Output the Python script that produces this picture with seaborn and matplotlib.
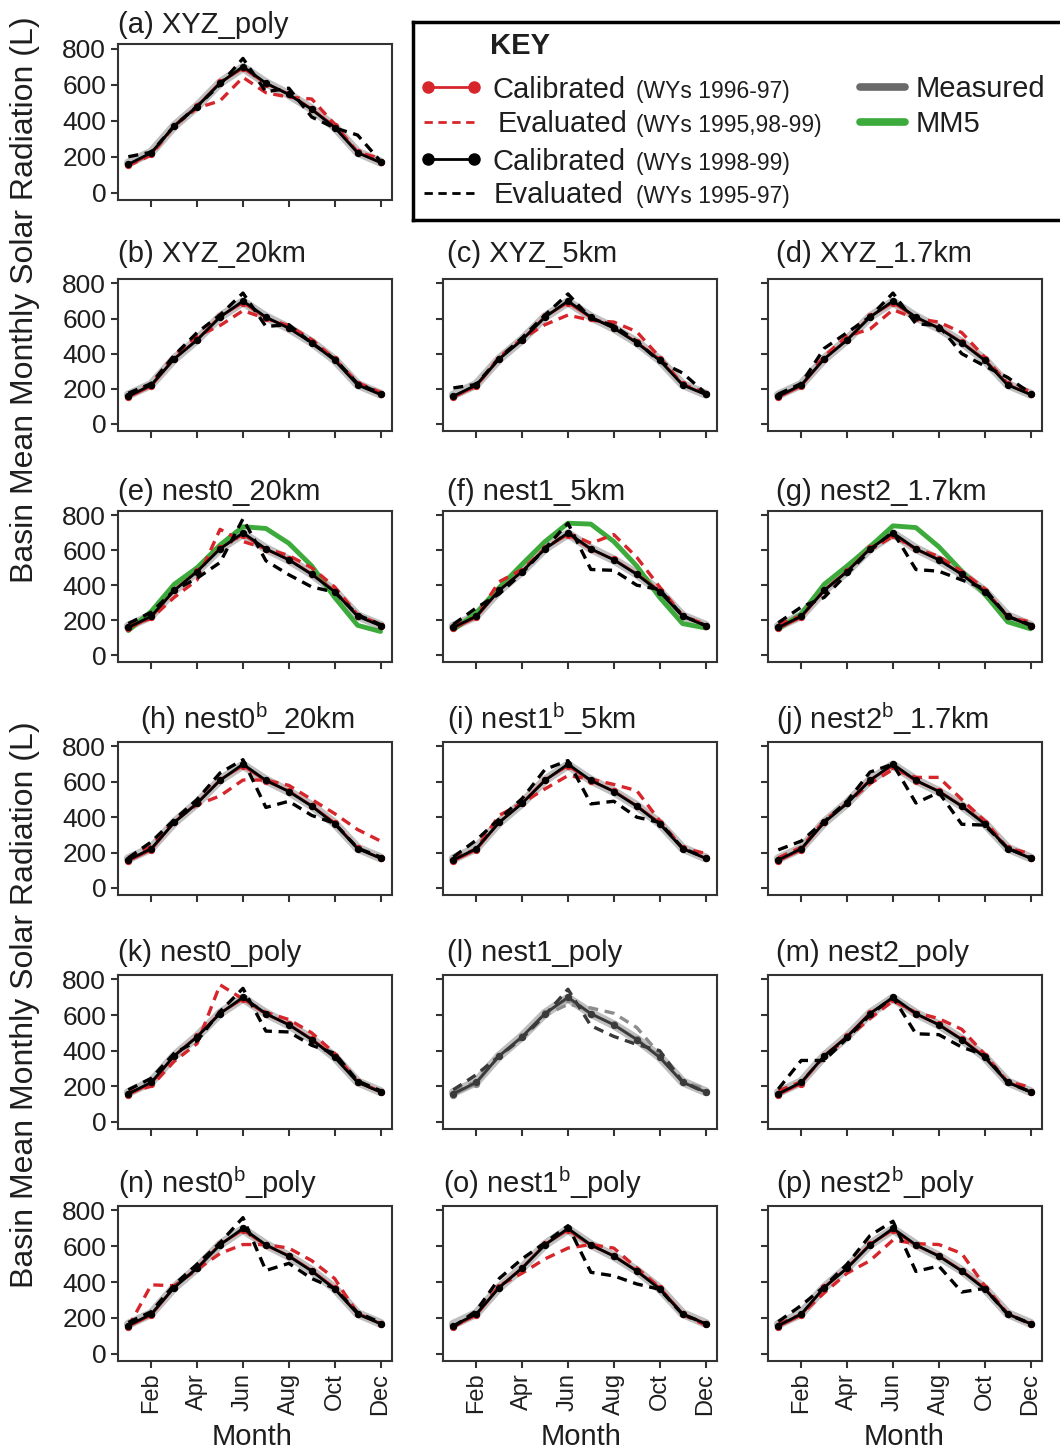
import matplotlib
matplotlib.use("Agg")
import matplotlib.pyplot as plt
import seaborn as sns
import pandas as pd
from matplotlib.lines import Line2D

# ---------------- data ----------------
months = [1, 2, 3, 4, 5, 6, 7, 8, 9, 10, 11, 12]
xtick_pos = [2, 4, 6, 8, 10, 12]
xtick_labels = ["Feb", "Apr", "Jun", "Aug", "Oct", "Dec"]
yticks = [0, 200, 400, 600, 800]

measured = [165, 225, 370, 480, 610, 695, 610, 545, 465, 365, 225, 170]
cal_black = [158, 222, 370, 478, 608, 700, 608, 545, 462, 362, 222, 168]
cal_red = [152, 215, 372, 480, 612, 690, 605, 548, 465, 368, 225, 168]

panel_ids = ["a", "b", "c", "d", "e", "f", "g", "h", "i", "j", "k", "l", "m", "n", "o", "p"]
panel_titles = ["(a) XYZ_poly", "(b) XYZ_20km", "(c) XYZ_5km", "(d) XYZ_1.7km",
                "(e) nest0_20km", "(f) nest1_5km", "(g) nest2_1.7km",
                "(h) nest0$^\\mathregular{b}$_20km", "(i) nest1$^\\mathregular{b}$_5km",
                "(j) nest2$^\\mathregular{b}$_1.7km",
                "(k) nest0_poly", "(l) nest1_poly", "(m) nest2_poly",
                "(n) nest0$^\\mathregular{b}$_poly", "(o) nest1$^\\mathregular{b}$_poly",
                "(p) nest2$^\\mathregular{b}$_poly"]

eval_red_a = [150, 210, 370, 470, 510, 640, 555, 530, 520, 380, 225, 190]
eval_black_a = [200, 225, 370, 480, 600, 745, 560, 580, 420, 360, 320, 175]
eval_red_b = [160, 230, 390, 500, 560, 645, 600, 560, 480, 370, 235, 180]
eval_black_b = [175, 230, 390, 520, 620, 745, 555, 565, 460, 370, 230, 175]
eval_red_c = [155, 215, 380, 485, 565, 620, 590, 580, 525, 380, 225, 180]
eval_black_c = [205, 225, 375, 490, 620, 740, 600, 560, 470, 355, 290, 175]
eval_red_d = [160, 220, 385, 500, 540, 650, 600, 580, 520, 380, 230, 185]
eval_black_d = [170, 230, 430, 520, 610, 745, 570, 560, 400, 330, 265, 175]
eval_red_e = [165, 210, 330, 430, 720, 650, 610, 570, 500, 390, 230, 175]
eval_black_e = [180, 245, 370, 440, 530, 780, 540, 460, 390, 360, 230, 175]
mm5_e = [140, 250, 405, 500, 630, 735, 725, 640, 510, 330, 170, 135]
eval_red_f = [165, 220, 420, 490, 610, 700, 640, 690, 560, 390, 225, 175]
eval_black_f = [175, 270, 350, 470, 610, 755, 490, 485, 400, 375, 225, 170]
mm5_f = [145, 240, 385, 520, 650, 755, 750, 650, 510, 330, 180, 155]
eval_red_g = [175, 225, 370, 480, 600, 680, 610, 565, 480, 380, 215, 190]
eval_black_g = [185, 275, 330, 465, 600, 705, 490, 480, 430, 380, 220, 175]
mm5_g = [150, 235, 405, 510, 620, 740, 730, 620, 480, 350, 190, 150]
eval_red_h = [165, 235, 380, 470, 520, 610, 610, 580, 500, 420, 330, 265]
eval_black_h = [170, 260, 385, 500, 650, 725, 455, 490, 410, 365, 225, 175]
eval_red_i = [165, 220, 410, 480, 560, 635, 615, 585, 550, 380, 225, 195]
eval_black_i = [175, 270, 390, 505, 670, 720, 475, 490, 400, 370, 225, 170]
eval_red_j = [170, 230, 380, 480, 590, 670, 625, 625, 500, 380, 225, 195]
eval_black_j = [215, 265, 375, 490, 655, 700, 480, 540, 360, 355, 225, 170]
eval_red_k = [165, 200, 340, 440, 770, 690, 615, 575, 500, 385, 225, 170]
eval_black_k = [180, 245, 385, 455, 620, 750, 510, 505, 430, 385, 230, 175]
eval_red_l = [175, 225, 370, 470, 600, 660, 640, 610, 530, 380, 225, 185]
eval_black_l = [180, 265, 370, 470, 600, 745, 540, 480, 435, 400, 225, 165]
eval_red_m = [175, 225, 365, 470, 580, 680, 615, 580, 520, 380, 225, 195]
eval_black_m = [185, 345, 345, 470, 600, 700, 495, 490, 420, 375, 220, 170]
eval_red_n = [150, 385, 380, 470, 560, 610, 610, 590, 520, 420, 225, 170]
eval_black_n = [175, 235, 385, 500, 620, 760, 465, 505, 420, 365, 230, 175]
eval_red_o = [150, 220, 380, 450, 530, 590, 610, 590, 480, 370, 220, 160]
eval_black_o = [150, 240, 420, 530, 620, 715, 455, 435, 390, 360, 220, 170]
eval_red_p = [165, 220, 340, 450, 520, 635, 615, 610, 560, 380, 225, 165]
eval_black_p = [180, 270, 375, 500, 660, 740, 460, 490, 345, 365, 220, 170]

eval_red = [eval_red_a, eval_red_b, eval_red_c, eval_red_d, eval_red_e, eval_red_f,
            eval_red_g, eval_red_h, eval_red_i, eval_red_j, eval_red_k, eval_red_l,
            eval_red_m, eval_red_n, eval_red_o, eval_red_p]
eval_black = [eval_black_a, eval_black_b, eval_black_c, eval_black_d, eval_black_e,
              eval_black_f, eval_black_g, eval_black_h, eval_black_i, eval_black_j,
              eval_black_k, eval_black_l, eval_black_m, eval_black_n, eval_black_o,
              eval_black_p]
mm5 = {"e": mm5_e, "f": mm5_f, "g": mm5_g}

# ---------------- style ----------------
sns.set_style("ticks")
plt.rcParams["font.family"] = ["Liberation Sans", "DejaVu Sans"]
plt.rcParams["mathtext.default"] = "regular"
TXT = "#1e1e1e"
plt.rcParams["text.color"] = TXT
plt.rcParams["xtick.labelcolor"] = TXT
plt.rcParams["ytick.labelcolor"] = TXT

W, H = 1060, 1451
fig = plt.figure(figsize=(W / 100, H / 100), dpi=100)

cols_px = [(118, 392), (443, 717), (768, 1042)]
rows_px = [(44, 200), (279, 431), (511, 662), (742, 895), (975, 1129), (1206, 1361)]
grid = [(0, 0), (1, 0), (1, 1), (1, 2), (2, 0), (2, 1), (2, 2), (3, 0), (3, 1), (3, 2),
        (4, 0), (4, 1), (4, 2), (5, 0), (5, 1), (5, 2)]
title_off = [0.0, 0.0, 0.015, 0.03, 0.0, 0.015, 0.03, 0.08, 0.015, 0.03,
             0.0, 0.015, 0.03, 0.0, 0.0, 0.03]
title_pad = [0.035, 0.075, 0.075, 0.075, 0.035, 0.035, 0.035, 0.035, 0.035, 0.035,
             0.055, 0.055, 0.055, 0.035, 0.035, 0.035]

RED = "#d7262b"
GREEN = "#3cab3c"
MEAS = "#b8b8b8"
DASH = (0, (3, 2))

for idx, pid in enumerate(panel_ids):
    r, c = grid[idx]
    l, rr = cols_px[c]
    t, b = rows_px[r]
    ax = fig.add_axes([l / W, 1 - b / H, (rr - l) / W, (b - t) / H])

    red_c = RED if pid != "l" else "#8c8c8c"
    blk_c = "black" if pid != "l" else "#3a3a3a"

    df = pd.DataFrame({"month": months, "measured": measured, "cal_red": cal_red,
                       "cal_black": cal_black, "eval_red": eval_red[idx],
                       "eval_black": eval_black[idx]})

    sns.lineplot(data=df, x="month", y="measured", ax=ax, color=MEAS, linewidth=6.5,
                 alpha=0.9, solid_capstyle="round", solid_joinstyle="round")
    if pid in mm5:
        sns.lineplot(x=months, y=mm5[pid], ax=ax, color=GREEN, linewidth=3.5)
    sns.lineplot(data=df, x="month", y="cal_red", ax=ax, color=red_c, linewidth=2,
                 marker="o", markersize=4.5, markeredgecolor=red_c)
    sns.lineplot(data=df, x="month", y="eval_red", ax=ax, color=red_c, linewidth=2.4,
                 linestyle=DASH)
    sns.lineplot(data=df, x="month", y="cal_black", ax=ax, color=blk_c, linewidth=2,
                 marker="o", markersize=4.5, markeredgecolor=blk_c)
    sns.lineplot(data=df, x="month", y="eval_black", ax=ax, color=blk_c, linewidth=2.4,
                 linestyle=DASH)

    ax.set_xlim(0.55, 12.5)
    ax.set_ylim(-40, 825)
    ax.set_xticks(xtick_pos)
    ax.set_yticks(yticks)
    ax.set_xlabel("")
    ax.set_ylabel("")
    for s in ax.spines.values():
        s.set_visible(True)
        s.set_color("#333333")
        s.set_linewidth(1.5)
    ax.tick_params(direction="out", length=5, width=1.5, color="#333333")
    if c == 0:
        ax.set_yticklabels([str(v) for v in yticks], fontsize=19)
    else:
        ax.set_yticklabels([])
    if r == 5:
        ax.set_xticklabels(xtick_labels, rotation=90, fontsize=17)
    else:
        ax.set_xticklabels([])
    ax.text(title_off[idx], 1 + title_pad[idx], panel_titles[idx], transform=ax.transAxes,
            ha="left", va="bottom", fontsize=21)

# y labels and x labels
fig.text(25 / W, 1 - 300 / H, "Basin Mean Monthly Solar Radiation (L)", rotation=90,
         ha="center", va="center", fontsize=23)
fig.text(25 / W, 1 - 1005 / H, "Basin Mean Monthly Solar Radiation (L)", rotation=90,
         ha="center", va="center", fontsize=23)
for cx in [252, 581, 904]:
    fig.text(cx / W, 1 - 1437 / H, "Month", ha="center", va="center", fontsize=21)

# ---------------- key box ----------------
kx0, kx1, ky0, ky1 = 413, 1072, 22, 220
kax = fig.add_axes([kx0 / W, 1 - ky1 / H, (kx1 - kx0) / W, (ky1 - ky0) / H])
kax.set_xlim(kx0, kx1)
kax.set_ylim(ky1, ky0)
kax.set_xticks([])
kax.set_yticks([])
for s in kax.spines.values():
    s.set_linewidth(2.5)
    s.set_color("black")
kax.patch.set_alpha(0)

kax.text(490, 46, "KEY", fontsize=21, fontweight="bold", ha="left", va="center")

key_rows = [
    (88, RED, True, "Calibrated", "(WYs 1996-97)", 492),
    (122, RED, False, "Evaluated", "(WYs 1995,98-99)", 498),
    (160, "black", True, "Calibrated", "(WYs 1998-99)", 492),
    (193, "black", False, "Evaluated", "(WYs 1995-97)", 494),
]
for y, col, mk, big, small, tx in key_rows:
    if mk:
        kax.add_line(Line2D([428, 474], [y - 1, y - 1], color=col, lw=2,
                            marker="o", markersize=8))
    else:
        kax.add_line(Line2D([424, 478], [y, y], color=col, lw=2, linestyle=(0, (3, 2))))
    kax.text(tx, y + 10, big, fontsize=21, ha="left", va="baseline")
    kax.text(636, y + 10, small, fontsize=16.5, ha="left", va="baseline")

kax.add_line(Line2D([860, 905], [87, 87], color="#6a6a6a", lw=5.5))
kax.text(916, 97, "Measured", fontsize=21, ha="left", va="baseline")
kax.add_line(Line2D([860, 905], [122, 122], color=GREEN, lw=5.5))
kax.text(916, 132, "MM5", fontsize=21, ha="left", va="baseline")

fig.savefig("out.png", dpi=100)
